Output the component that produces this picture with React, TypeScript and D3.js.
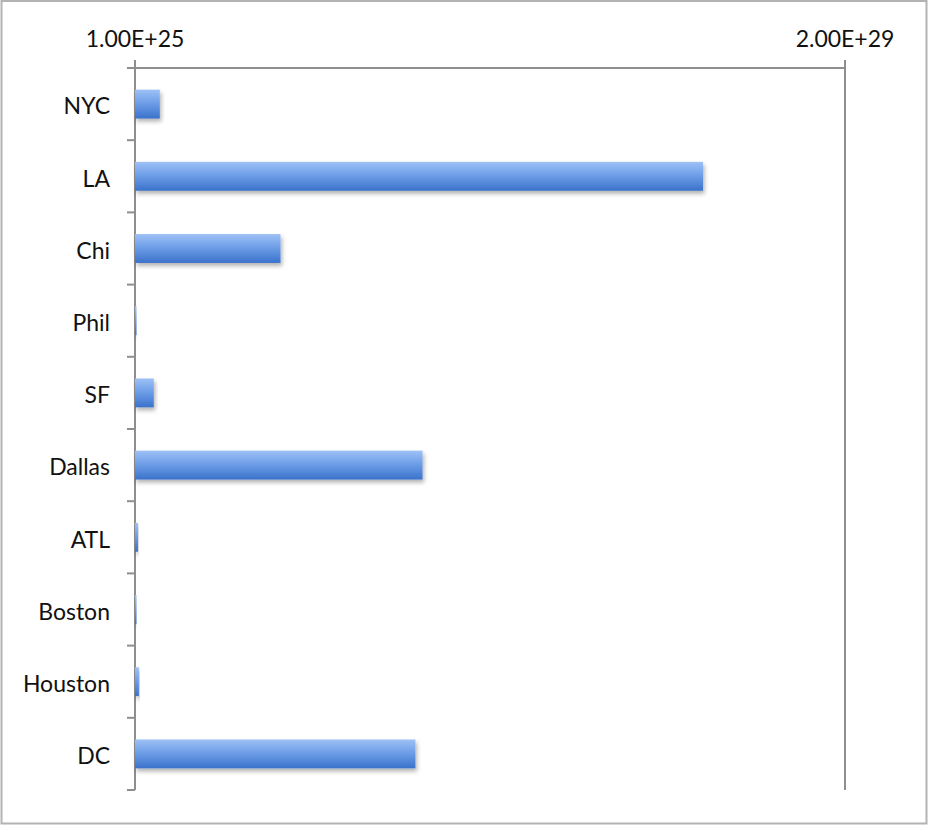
import { useEffect, useRef } from 'react';
import * as d3 from 'd3';

const cities = ['NYC', 'LA', 'Chi', 'Phil', 'SF', 'Dallas', 'ATL', 'Boston', 'Houston', 'DC'];
const values = [7.0e27, 1.6e29, 4.1e28, 3.0e26, 5.3e27, 8.1e28, 8.5e26, 3.0e26, 1.1e27, 7.9e28];
const xTicks = [1.0e25, 2.0e29];
const tickLabels = ['1.00E+25', '2.00E+29'];

const App = () => {
  const svgRef = useRef<SVGSVGElement>(null);

  useEffect(() => {
    const width = 928;
    const height = 825;
    const margin = { top: 68, right: 83, bottom: 35, left: 135 };

    const svg = d3.select(svgRef.current);
    svg.selectAll('*').remove();

    // outer frame
    svg.append('rect')
      .attr('x', 1.5)
      .attr('y', 1)
      .attr('width', width - 3)
      .attr('height', height - 2.5)
      .attr('fill', '#fff')
      .attr('stroke', '#b3b3b3')
      .attr('stroke-width', 2);

    const defs = svg.append('defs');
    const grad = defs.append('linearGradient')
      .attr('id', 'bar-grad')
      .attr('x1', '0%').attr('y1', '0%')
      .attr('x2', '0%').attr('y2', '100%');
    grad.append('stop').attr('offset', '0%').attr('stop-color', '#9ec1f6');
    grad.append('stop').attr('offset', '45%').attr('stop-color', '#6f9fe8');
    grad.append('stop').attr('offset', '100%').attr('stop-color', '#3a72cb');

    const shadow = defs.append('filter')
      .attr('id', 'bar-shadow')
      .attr('x', '-10%').attr('y', '-20%')
      .attr('width', '130%').attr('height', '160%');
    shadow.append('feDropShadow')
      .attr('dx', 1.5)
      .attr('dy', 3)
      .attr('stdDeviation', 2)
      .attr('flood-color', '#000')
      .attr('flood-opacity', 0.3);

    const x = d3.scaleLinear()
      .domain([xTicks[0], xTicks[1]])
      .range([margin.left, width - margin.right]);

    const y = d3.scaleBand()
      .domain(cities)
      .range([margin.top, height - margin.bottom])
      .paddingInner(0.6)
      .paddingOuter(0.3);

    const step = y.step();
    const boundaries = d3.range(cities.length + 1).map(i => margin.top + i * step);
    const bottom = margin.top + cities.length * step;
    const axisColor = '#8e8e8e';
    const font = 'Lato, "Open Sans", sans-serif';

    const axes = svg.append('g')
      .attr('stroke', axisColor)
      .attr('stroke-width', 2)
      .attr('fill', 'none');

    // top axis line
    axes.append('line')
      .attr('x1', x(xTicks[0])).attr('x2', x(xTicks[1]))
      .attr('y1', margin.top).attr('y2', margin.top);

    // left axis + right edge
    xTicks.forEach(t => {
      axes.append('line')
        .attr('x1', x(t)).attr('x2', x(t))
        .attr('y1', margin.top - 8).attr('y2', bottom);
    });

    // category ticks
    axes.selectAll('.ytick')
      .data(boundaries)
      .enter().append('line')
      .attr('x1', x(xTicks[0]) - 8).attr('x2', x(xTicks[0]))
      .attr('y1', d => d).attr('y2', d => d);

    // bars (drawn over the axis so tiny ones still show)
    svg.append('g')
      .selectAll('rect')
      .data(values)
      .enter().append('rect')
      .attr('x', x(xTicks[0]))
      .attr('y', (d, i) => y(cities[i]) as number)
      .attr('width', d => Math.max(1.5, x(d) - x(xTicks[0])))
      .attr('height', y.bandwidth())
      .attr('fill', 'url(#bar-grad)')
      .attr('filter', 'url(#bar-shadow)');

    // x tick labels
    svg.selectAll('.xlabel')
      .data(xTicks)
      .enter().append('text')
      .attr('x', d => x(d))
      .attr('y', 47)
      .attr('text-anchor', 'middle')
      .style('font-family', font)
      .style('font-size', '23px')
      .style('fill', '#111')
      .text((d, i) => tickLabels[i]);

    // city labels
    svg.selectAll('.ylabel')
      .data(cities)
      .enter().append('text')
      .attr('x', x(xTicks[0]) - 25)
      .attr('y', d => (y(d) as number) + y.bandwidth() / 2 + 2)
      .attr('dy', '0.36em')
      .attr('text-anchor', 'end')
      .style('font-family', font)
      .style('font-size', '23px')
      .style('fill', '#111')
      .text(d => d);
  }, []);

  return (
    <svg
      ref={svgRef}
      width={928}
      height={825}
      style={{ position: 'absolute', left: 0, top: 0 }}
    />
  );
};

export default App;
